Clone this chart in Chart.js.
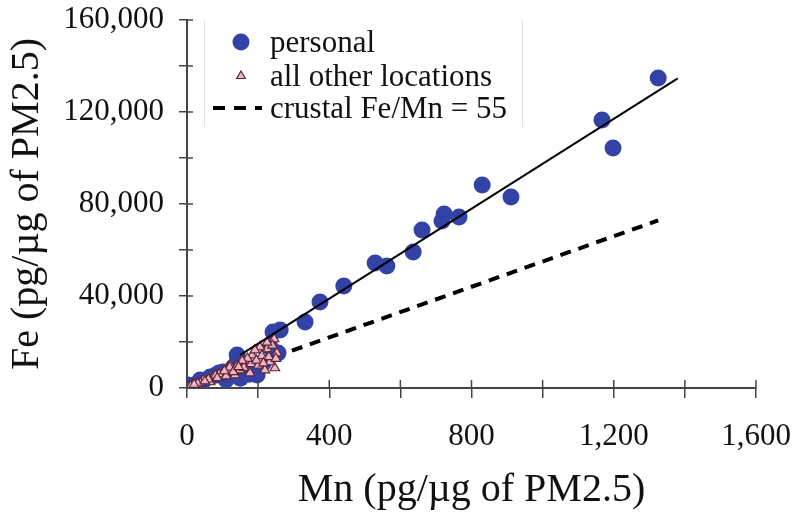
<!DOCTYPE html>
<html>
<head>
<meta charset="utf-8">
<script src="https://cdn.jsdelivr.net/npm/chart.js@4.4.1/dist/chart.umd.min.js"></script>
<style>
	html, body { margin: 0; padding: 0; background: #fff; }
	#wrap { width: 800px; height: 517px; position: relative; }
</style>
</head>
<body>
<div id="wrap"><canvas id="fe-mn-chart" width="800" height="517"></canvas></div>
<script>
(function() {
	'use strict';

	// personal samples (blue circles)
	var personalMn = [1325, 1167, 1198, 911, 830, 765, 723, 717, 661, 636, 562, 529, 441, 374, 332, 262, 242, 141, 256, 197, 101, 65, 3, 37, 163, 121, 45, 80, 110, 150, 175, 215, 235, 90, 130];
	var personalFe = [134800, 116500, 104300, 83000, 88300, 74300, 75700, 72600, 68700, 59100, 53000, 54300, 44300, 37400, 28700, 25200, 24300, 14300, 15200, 5650, 6960, 4800, 1300, 3500, 7800, 5650, 3000, 5500, 3600, 4200, 6000, 11000, 17500, 6500, 9000];

	// all other locations (pink triangles)
	var otherMn = [245, 225, 253, 247, 205, 183, 163, 149, 121, 101, 73, 45, 17, 0, 233, 219, 177, 135, 115, 93, 65, 37, 205, 191, 120, 140, 160, 180, 200, 210, 230, 240, 90, 80, 60, 30, 10, 110, 130, 170, 195, 215, 250, 225, 155, 145, 105, 85, 50, 20];
	var otherFe = [21300, 16950, 15200, 8700, 12200, 14300, 11300, 7800, 10000, 6960, 4800, 3500, 1300, 430, 11300, 7800, 6500, 5650, 7800, 4800, 2600, 2200, 17800, 16500, 9000, 9500, 8900, 10500, 9800, 14000, 13500, 18500, 6000, 5500, 3800, 2000, 800, 5200, 7000, 12800, 12000, 10800, 12800, 19800, 11900, 9200, 7400, 4400, 3000, 1500];

	// fitted line and crustal ratio line (end points)
	var fitMn = [150, 1380];
	var fitFe = [14370, 134660];
	var crustalMn = [295, 1325];
	var crustalFe = [16225, 72875];

	// axis ticks
	var xTicks = [0, 400, 800, 1200, 1600];
	var yTicks = [0, 40000, 80000, 120000, 160000];

	var legendLabels = ['personal', 'all other locations', 'crustal Fe/Mn = 55'];

	var blue = '#3242a6';
	var pink = '#efb3c4';
	var pinkEdge = '#5b2838';
	var serif = "'Liberation Serif', 'Times New Roman', serif";

	function pairs(xs, ys) {
		var out = [];
		for (var i = 0; i < xs.length; i++) {
			out.push({ x: xs[i], y: ys[i] });
		}
		return out;
	}

	function fmt(v) {
		return v.toLocaleString('en-US');
	}

	// ticks that cross into the plot area
	var innerTicks = {
		id: 'innerTicks',
		afterDatasetsDraw: function(chart) {
			var ctx = chart.ctx;
			var xs = chart.scales.x;
			var ys = chart.scales.y;
			var area = chart.chartArea;
			ctx.save();
			ctx.strokeStyle = '#444';
			ctx.lineWidth = 1.5;
			xs.ticks.forEach(function(t) {
				var px = xs.getPixelForValue(t.value);
				ctx.beginPath();
				ctx.moveTo(px, area.bottom);
				ctx.lineTo(px, area.bottom - 8);
				ctx.stroke();
			});
			ys.ticks.forEach(function(t) {
				var py = ys.getPixelForValue(t.value);
				ctx.beginPath();
				ctx.moveTo(area.left, py);
				ctx.lineTo(area.left + 6, py);
				ctx.stroke();
			});
			ctx.restore();
		}
	};

	// legend drawn inside the plot, top left
	var insideLegend = {
		id: 'insideLegend',
		afterDraw: function(chart) {
			var ctx = chart.ctx;
			ctx.save();

			ctx.strokeStyle = '#e2e2e2';
			ctx.lineWidth = 1;
			ctx.beginPath();
			ctx.moveTo(204.5, 20);
			ctx.lineTo(204.5, 127);
			ctx.moveTo(522.5, 20);
			ctx.lineTo(522.5, 127);
			ctx.stroke();

			ctx.fillStyle = blue;
			ctx.beginPath();
			ctx.arc(241, 42, 8.5, 0, Math.PI * 2);
			ctx.fill();

			ctx.fillStyle = pink;
			ctx.strokeStyle = pinkEdge;
			ctx.lineWidth = 1.2;
			Chart.helpers.drawPoint(ctx, { pointStyle: 'triangle', radius: 5, borderWidth: 1.2 }, 241, 76);

			ctx.strokeStyle = '#000';
			ctx.lineWidth = 4;
			ctx.setLineDash([12, 9]);
			ctx.beginPath();
			ctx.moveTo(213, 108);
			ctx.lineTo(262, 108);
			ctx.stroke();
			ctx.setLineDash([]);

			ctx.fillStyle = '#111';
			ctx.font = '31px ' + serif;
			ctx.textBaseline = 'alphabetic';
			ctx.fillText(legendLabels[0], 270, 52);
			ctx.fillText(legendLabels[1], 270, 86);
			ctx.fillText(legendLabels[2], 270, 118);
			ctx.restore();
		}
	};

	Chart.defaults.font.family = serif;
	Chart.defaults.color = '#111';

	var ctx = document.getElementById('fe-mn-chart');

	new Chart(ctx, {
		type: 'scatter',
		data: {
			datasets: [
				{
					label: 'fit',
					data: pairs(fitMn, fitFe),
					showLine: true,
					borderColor: '#000',
					borderWidth: 2,
					pointRadius: 0,
					order: 0
				},
				{
					label: legendLabels[2],
					data: pairs(crustalMn, crustalFe),
					showLine: true,
					borderColor: '#000',
					borderWidth: 4,
					borderDash: [11, 8],
					pointRadius: 0,
					order: 1
				},
				{
					label: legendLabels[1],
					data: pairs(otherMn, otherFe),
					pointStyle: 'triangle',
					pointRadius: 5.5,
					backgroundColor: pink,
					borderColor: pinkEdge,
					borderWidth: 1.2,
					order: 2
				},
				{
					label: legendLabels[0],
					data: pairs(personalMn, personalFe),
					pointStyle: 'circle',
					pointRadius: 8.5,
					backgroundColor: blue,
					borderWidth: 0,
					order: 3
				}
			]
		},
		options: {
			responsive: false,
			animation: false,
			layout: {
				padding: { top: 20, right: 44, left: 0, bottom: 0 }
			},
			plugins: {
				legend: { display: false },
				tooltip: { enabled: false }
			},
			scales: {
				x: {
					type: 'linear',
					min: 0,
					max: 1600,
					afterFit: function(scale) {
						scale.height = 129;
						scale.paddingLeft = 0;
						scale.paddingRight = 0;
					},
					border: { display: true, color: '#444', width: 2 },
					grid: { drawOnChartArea: false, drawTicks: true, tickLength: 10, color: '#444', lineWidth: 1.5 },
					ticks: {
						stepSize: 200,
						autoSkip: false,
						maxRotation: 0,
						padding: 20,
						font: { size: 31 },
						color: '#111',
						callback: function(v) { return xTicks.indexOf(v) >= 0 ? fmt(v) : ''; }
					},
					title: {
						display: true,
						text: 'Mn (pg/µg of PM2.5)',
						font: { size: 40 },
						color: '#111',
						padding: { top: 0, bottom: 3 }
					}
				},
				y: {
					type: 'linear',
					min: 0,
					max: 160000,
					afterFit: function(scale) {
						scale.width = 187;
						scale.paddingTop = 0;
						scale.paddingBottom = 0;
					},
					border: { display: true, color: '#444', width: 2 },
					grid: { drawOnChartArea: false, drawTicks: true, tickLength: 8, color: '#444', lineWidth: 1.5 },
					ticks: {
						stepSize: 20000,
						autoSkip: false,
						padding: 15,
						font: { size: 31 },
						color: '#111',
						callback: function(v) { return yTicks.indexOf(v) >= 0 ? fmt(v) : ''; }
					},
					title: {
						display: true,
						text: 'Fe (pg/µg of PM2.5)',
						font: { size: 40 },
						color: '#111',
						padding: { top: 3, bottom: 0 }
					}
				}
			}
		},
		plugins: [innerTicks, insideLegend]
	});

})();
</script>
</body>
</html>
